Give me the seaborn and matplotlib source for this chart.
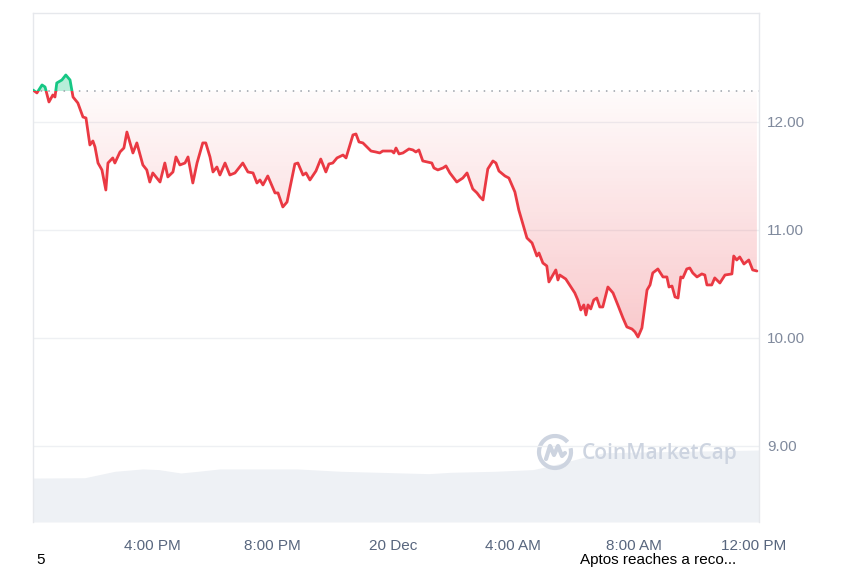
import numpy as np
import pandas as pd
import matplotlib
matplotlib.use("Agg")
import matplotlib.pyplot as plt
import seaborn as sns
from matplotlib.patches import Rectangle, Arc
from matplotlib.lines import Line2D
from matplotlib.path import Path
from matplotlib.colors import LinearSegmentedColormap

# APT price, 19-20 Dec, time in hours counted from 19 Dec 00:00
hours = [12.05, 12.18, 12.35, 12.45, 12.58, 12.71, 12.78, 12.84, 13.01, 13.14,
         13.28, 13.38, 13.54, 13.71, 13.81, 13.94, 14.04, 14.11, 14.21, 14.34,
         14.47, 14.54, 14.70, 14.77, 14.94, 15.07, 15.17, 15.37, 15.50, 15.70,
         15.83, 15.93, 16.03, 16.27, 16.43, 16.53, 16.70, 16.80, 16.93, 17.10,
         17.20, 17.36, 17.50, 17.69, 17.79, 17.93, 18.03, 18.16, 18.26, 18.43,
         18.59, 18.76, 19.02, 19.19, 19.36, 19.49, 19.59, 19.69, 19.85, 20.09,
         20.19, 20.35, 20.49, 20.75, 20.85, 21.02, 21.12, 21.25, 21.45, 21.61,
         21.78, 21.88, 22.01, 22.15, 22.35, 22.45, 22.68, 22.78, 22.88, 23.01,
         23.28, 23.44, 23.57, 23.67, 23.97, 24.04, 24.11, 24.21, 24.34, 24.54,
         24.67, 24.77, 24.87, 25.00, 25.14, 25.30, 25.37, 25.50, 25.67, 25.77,
         25.90, 26.13, 26.33, 26.47, 26.66, 26.80, 26.90, 27.00, 27.16, 27.33,
         27.43, 27.53, 27.73, 27.86, 28.06, 28.19, 28.46, 28.63, 28.79, 28.86,
         28.99, 29.12, 29.19, 29.42, 29.49, 29.55, 29.75, 30.05, 30.15, 30.25,
         30.35, 30.42, 30.49, 30.58, 30.68, 30.78, 30.88, 30.98, 31.15, 31.32,
         31.48, 31.65, 31.78, 31.95, 32.05, 32.15, 32.28, 32.45, 32.55, 32.64,
         32.81, 32.98, 33.11, 33.18, 33.28, 33.38, 33.48, 33.57, 33.64, 33.77,
         33.87, 33.97, 34.11, 34.27, 34.37, 34.44, 34.60, 34.70, 34.87, 35.04,
         35.27, 35.33, 35.43, 35.53, 35.67, 35.83, 35.96, 36.10]
price = [12.296, 12.269, 12.343, 12.324, 12.185, 12.250, 12.231, 12.361, 12.389, 12.435,
         12.389, 12.231, 12.176, 12.046, 12.037, 11.787, 11.824, 11.769, 11.620, 11.556,
         11.370, 11.620, 11.667, 11.620, 11.722, 11.759, 11.907, 11.713, 11.806, 11.602,
         11.556, 11.444, 11.528, 11.444, 11.620, 11.491, 11.537, 11.676, 11.602, 11.620,
         11.676, 11.435, 11.620, 11.806, 11.806, 11.676, 11.537, 11.583, 11.509, 11.620,
         11.509, 11.528, 11.620, 11.537, 11.528, 11.435, 11.463, 11.417, 11.500, 11.343,
         11.343, 11.213, 11.259, 11.611, 11.620, 11.509, 11.528, 11.463, 11.546, 11.657,
         11.537, 11.611, 11.620, 11.667, 11.694, 11.667, 11.880, 11.889, 11.815, 11.806,
         11.731, 11.722, 11.713, 11.731, 11.731, 11.713, 11.759, 11.704, 11.713, 11.750,
         11.741, 11.722, 11.741, 11.639, 11.630, 11.620, 11.574, 11.556, 11.574, 11.593,
         11.528, 11.444, 11.481, 11.528, 11.380, 11.343, 11.306, 11.278, 11.565, 11.639,
         11.620, 11.546, 11.500, 11.481, 11.352, 11.185, 10.926, 10.880, 10.759, 10.787,
         10.694, 10.667, 10.519, 10.630, 10.537, 10.583, 10.546, 10.417, 10.352, 10.259,
         10.306, 10.213, 10.306, 10.269, 10.352, 10.370, 10.287, 10.287, 10.472, 10.417,
         10.306, 10.185, 10.102, 10.083, 10.056, 10.009, 10.093, 10.444, 10.491, 10.602,
         10.639, 10.565, 10.565, 10.472, 10.481, 10.380, 10.370, 10.565, 10.556, 10.639,
         10.648, 10.602, 10.565, 10.593, 10.583, 10.491, 10.491, 10.556, 10.509, 10.583,
         10.593, 10.759, 10.722, 10.750, 10.685, 10.722, 10.630, 10.620]
open_price = 12.287

# 24h volume (millions USD)
vol_hours = [12.05, 13.77, 14.77, 15.70, 16.23, 16.96, 17.53, 18.26, 20.82,
             22.28, 25.20, 25.93, 27.40, 28.66, 29.19, 30.29, 31.02, 36.17]
vol_musd = [260, 262, 300, 314, 310, 290, 300, 314, 314,
            300, 286, 294, 300, 310, 330, 380, 410, 426]

tick_hours = [16, 20, 24, 28, 32, 36]
tick_labels = ["4:00 PM", "8:00 PM", "20 Dec", "4:00 AM", "8:00 AM", "12:00 PM"]
price_ticks = [9, 10, 11, 12]

df = pd.DataFrame({"hour": hours, "price": price})
vol = pd.DataFrame({"hour": vol_hours, "volume": vol_musd})

red = "#ea3943"
green = "#16c784"

sns.set_theme(style="white")
plt.rcParams["font.family"] = ["Liberation Sans", "DejaVu Sans"]

W, H = 850, 567
fig = plt.figure(figsize=(W / 100, H / 100), dpi=100)
ax = fig.add_axes([33 / W, 1 - 522 / H, (759 - 33) / W, (522 - 13) / H])
xmin, xmax = 12.05, 36.17
ymin, ymax = 8.296, 13.009

# volume in the bottom band
axv = ax.twinx()
axv.fill_between(vol["hour"], vol["volume"], 0, color="#eef1f5", lw=0)
axv.set_ylim(0, max(vol_musd) * 509 / 72)
axv.set_yticks([])
for s in axv.spines.values():
    s.set_visible(False)
ax.set_zorder(axv.get_zorder() + 1)
ax.patch.set_visible(False)

p = np.array(price)
h = np.array(hours)

# green area above the open
ax.fill_between(h, p, open_price, where=p >= open_price, interpolate=True,
                color=green, alpha=0.3, lw=0, zorder=2)

# red gradient area below the open
below = ax.fill_between(h, p, open_price, where=p <= open_price, interpolate=True,
                        color="none", lw=0)
clip = Path.make_compound_path(*below.get_paths())
cmap = LinearSegmentedColormap.from_list(
    "fade", [(0.918, 0.224, 0.263, 0.28), (0.918, 0.224, 0.263, 0.02)])
grad = np.linspace(0, 1, 256).reshape(-1, 1)
im = ax.imshow(grad, cmap=cmap, aspect="auto", origin="lower",
               extent=[xmin, xmax, 9.95, open_price], zorder=2)
im.set_clip_path(clip, transform=ax.transData)

ax.axhline(open_price, color="#9aa0a8", lw=1.1, ls=(0, (1, 4)), zorder=3)

sns.lineplot(data=df, x="hour", y="price", ax=ax, color=red, lw=2,
             sort=False, estimator=None, zorder=4)
sns.lineplot(data=df, x="hour", y="price", ax=ax, color=green, lw=2,
             sort=False, estimator=None, zorder=4)
lo = Rectangle((xmin, ymin), xmax - xmin, open_price - ymin, transform=ax.transData)
hi = Rectangle((xmin, open_price), xmax - xmin, ymax - open_price, transform=ax.transData)
ax.lines[-2].set_clip_path(lo)
ax.lines[-1].set_clip_path(hi)

ax.set_xlim(xmin, xmax)
ax.set_ylim(ymin, ymax)
axv.set_xlim(xmin, xmax)
ax.set_xlabel("")
ax.set_ylabel("")

ax.yaxis.tick_right()
ax.set_yticks(price_ticks, [f"{v:.2f}" for v in price_ticks])
ax.set_xticks(tick_hours, tick_labels)
ax.tick_params(axis="y", length=0, pad=6, labelsize=11, labelcolor="#808a9d")
ax.tick_params(axis="x", length=0, pad=12, labelsize=11, labelcolor="#58667e")
ax.yaxis.grid(True, color="#eef0f3", lw=1)
ax.set_axisbelow(True)
for name, s in ax.spines.items():
    s.set_color("#e6e8ec")
    s.set_linewidth(1)
ax.spines["bottom"].set_visible(False)

# watermark: ring with a wave inside, then the name
wm = "#cdd4e0"
cx, cy = 555 / W, 1 - 452 / H
fig.add_artist(Arc((cx, cy), 32 / W, 32 / H, theta1=50, theta2=380,
                   transform=fig.transFigure, color=wm, lw=3))
wx = [-9, -5, -1, 3, 7, 10]
wy = [-7, 6, -3, 6, -4, -1]
fig.add_artist(Line2D([cx + v / W for v in wx], [cy + v / H for v in wy],
                      transform=fig.transFigure, color=wm, lw=3,
                      solid_joinstyle="round", solid_capstyle="round"))
fig.text(582 / W, 1 - 454 / H, "CoinMarketCap", color=wm, fontsize=15,
         ha="left", va="center", fontweight="semibold", family="Open Sans")

# cropped page leftovers
fig.text(36 / W, 1 - 560 / H, "5", fontsize=11, color="black", va="center")
fig.text(580 / W, 1 - 560 / H, "Aptos reaches a reco...", fontsize=11,
         color="black", va="center")

fig.savefig("out.png", dpi=100)
